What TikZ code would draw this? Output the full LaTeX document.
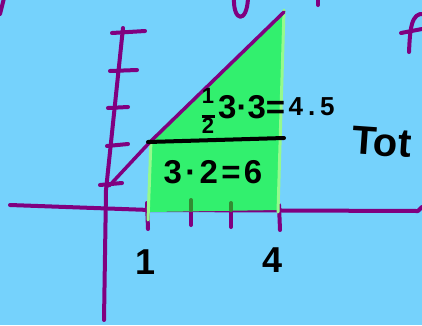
\documentclass[tikz,border=0pt]{standalone}
\usepackage{fontspec}
\setmainfont{Liberation Sans}
\usepackage{xcolor}
\usetikzlibrary{positioning}
\definecolor{sky}{RGB}{117,210,252}
\definecolor{plum}{RGB}{128,0,128}
\definecolor{leaf}{RGB}{50,240,110}
\definecolor{mint}{RGB}{150,250,140}
\definecolor{moss}{RGB}{50,140,50}

\begin{document}
\begin{tikzpicture}[x=1pt, y=-1pt,
  pen/.style={line width=4pt, line cap=round, line join=round},
  axis/.style={pen, draw=plum},
  gtick/.style={pen, draw=moss},
  edge/.style={pen, draw=mint, line width=3pt},
  num/.style={inner sep=0pt, font=\bfseries\fontsize{28}{30}\selectfont}]
\useasboundingbox (0,0) rectangle (422,325);
\clip (0,0) rectangle (422,325);
\fill[sky] (0,0) rectangle (422,325);

% corner points of the region
\coordinate (lo) at (150,142);
\coordinate (hi) at (284,12);
\coordinate (br) at (279,210);
\coordinate (bl) at (150,212);

% axes and ticks
\draw[axis] (10,205) -- (150,210) -- (418,211) -- (422,207);
\draw[axis] (123,28) -- (106,190) -- (104,320);
\foreach \ya/\yb/\xa/\xb in {33/31/112/145, 71/70/110/137, 108/107/108/128, 146/144/107/128, 185/183/100/122}
  \draw[axis] (\xa,\ya) -- (\xb,\yb);
\draw[axis] (147,203) -- (148,229);
\draw[axis] (191,205) -- (191,225);
\draw[axis] (231,205) -- (231,227);
\draw[axis] (279,205) -- (280,230);

% shaded area
\fill[leaf] (lo) -- (hi) -- (br) -- (bl) -- cycle;
\draw[gtick] (191,200) -- (191,210);
\draw[gtick] (231,203) -- (231,210);
\draw[edge] (151,140) -- (148,220);
\draw[edge] (284,10) -- (278,212);
\draw[axis, line width=3.5pt] (109,186) -- (lo) -- (hi);
\draw[pen, draw=black] (148,142) -- (284,138);

% scribbles cut off at the top
\draw[axis] (234,-2) .. controls (233,22) and (247,24) .. (248,-2);
\draw[axis] (318,-2) -- (318,5);
\draw[axis] (0,14) -- (4,-2);
\draw[axis] (424,14) .. controls (411,12) and (410,30) .. (409,52);
\draw[axis] (401,33) -- (422,29);

% labels
\node[num, align=center, font=\bfseries\fontsize{22}{18}\selectfont] (half) at (208,111) {1\\[-4pt]\rule{13pt}{3pt}\\[-2pt]2};
\node[num, anchor=west, font=\bfseries\fontsize{33}{35}\selectfont] (prod) at (218,107) {3·3=};
\node[num, anchor=west, font=\bfseries\fontsize{26}{28}\selectfont] (res) at ([xshift=3pt]prod.east) {4\kern5pt.\kern5pt5};
\node[num, font=\bfseries\fontsize{33}{35}\selectfont\addfontfeature{LetterSpace=10}] (rect) at (213,172) {3·2=6};
\node[num, font=\bfseries\fontsize{36}{38}\selectfont] (one) at (146,262) {1};
\node[num, font=\bfseries\fontsize{36}{38}\selectfont] (four) at (273,260) {4};
\node[num, anchor=west, rotate=-4, font=\bfseries\fontsize{40}{42}\selectfont] (tot) at (352,140) {Tot};
\end{tikzpicture}
\end{document}
